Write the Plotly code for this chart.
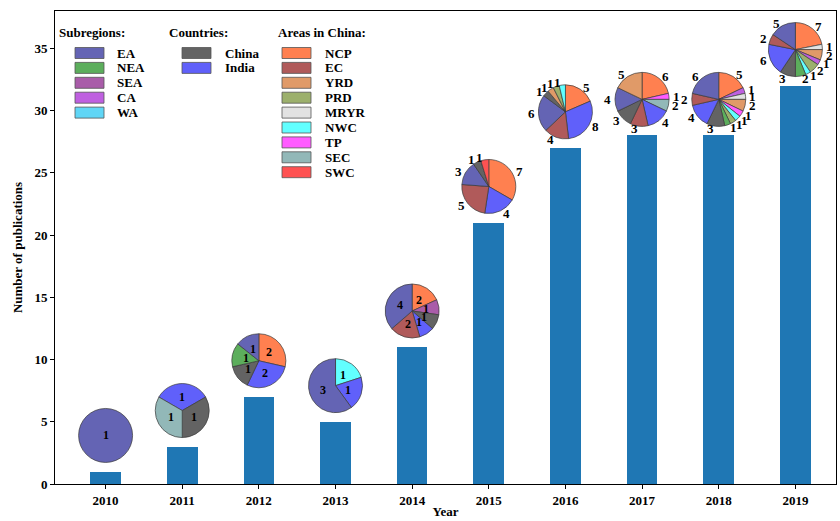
import math
import plotly.graph_objects as go

# ---- data -------------------------------------------------------------
years = [2010, 2011, 2012, 2013, 2014, 2015, 2016, 2017, 2018, 2019]
counts = [1, 3, 7, 5, 11, 21, 27, 28, 28, 32]

subregions = ["EA", "NEA", "SEA", "CA", "WA"]
countries = ["China", "India"]
china_areas = ["NCP", "EC", "YRD", "PRD", "MRYR", "NWC", "TP", "SEC", "SWC"]

# breakdown of each year's publications, listed counter-clockwise
pie_2010 = [("EA", 1)]
pie_2011 = [("SEC", 1), ("China", 1), ("India", 1)]
pie_2012 = [("EA", 1), ("NEA", 1), ("China", 1), ("India", 2), ("NCP", 2)]
pie_2013 = [("EA", 3), ("India", 1), ("NWC", 1)]
pie_2014 = [("EA", 4), ("EC", 2), ("India", 1), ("China", 1), ("SEA", 1), ("NCP", 2)]
pie_2015 = [("SWC", 1), ("China", 1), ("EA", 3), ("EC", 5), ("India", 4), ("NCP", 7)]
pie_2016 = [("NWC", 1), ("PRD", 1), ("YRD", 1), ("China", 1), ("EA", 6), ("EC", 4),
            ("India", 8), ("NCP", 5)]
pie_2017 = [("YRD", 5), ("EA", 4), ("China", 3), ("EC", 3), ("India", 4), ("SEC", 2),
            ("TP", 1), ("NCP", 6)]
pie_2018 = [("EA", 6), ("EC", 2), ("India", 4), ("China", 3), ("NEA", 1), ("PRD", 1),
            ("NWC", 1), ("TP", 1), ("YRD", 2), ("MRYR", 1), ("CA", 1), ("NCP", 5)]
pie_2019 = [("EA", 5), ("EC", 2), ("India", 6), ("China", 3), ("NEA", 2), ("NWC", 1),
            ("PRD", 2), ("CA", 1), ("YRD", 2), ("MRYR", 1), ("NCP", 7)]
pies = [pie_2010, pie_2011, pie_2012, pie_2013, pie_2014,
        pie_2015, pie_2016, pie_2017, pie_2018, pie_2019]

# ---- styling ----------------------------------------------------------
colors = {
    "EA": "#6464b4", "NEA": "#5cae5c", "SEA": "#a95ca9", "CA": "#bf60e0", "WA": "#60d6f6",
    "China": "#636363", "India": "#6060fa",
    "NCP": "#ff8050", "EC": "#b05a5a", "YRD": "#e09a68", "PRD": "#9cb06c",
    "MRYR": "#e2e2e2", "NWC": "#62ffff", "TP": "#ff5cff", "SEC": "#92b8b8", "SWC": "#ff5252",
}
pie_rotation = [0, -60, 0, 0, 0, 0, 0, 0, 0, 0]   # start angle (deg, clockwise from 12 o'clock)
outside_labels = [False] * 5 + [True] * 5
FONT = "Liberation Serif"

W, H = 840, 521
ML, MR, MT, MB = 55, 4, 11, 37
PW, PH = W - ML - MR, H - MT - MB
XR = [-0.66, 9.53]
YR = [0, 38]
PIE_R = 27          # pie radius in px
PIE_LIFT = 2.9      # pie centre above bar top, data units


def data_to_px(x, y):
    px = ML + (x - XR[0]) / (XR[1] - XR[0]) * PW
    py = MT + (1 - (y - YR[0]) / (YR[1] - YR[0])) * PH
    return px, py


def px_to_paper(px, py):
    return (px - ML) / PW, 1 - (py - MT) / PH


fig = go.Figure()

fig.add_trace(go.Bar(
    x=list(range(len(years))), y=counts, width=0.4,
    marker=dict(color="#1f77b4", line=dict(width=0)),
    showlegend=False, hoverinfo="x+y",
))

annotations = []
for i, (n, comp) in enumerate(zip(counts, pies)):
    cx, cy = data_to_px(i, n + PIE_LIFT)
    x0, y0 = px_to_paper(cx - PIE_R, cy + PIE_R)
    x1, y1 = px_to_paper(cx + PIE_R, cy - PIE_R)
    labels = [k for k, _ in comp]
    values = [v for _, v in comp]
    # a counter-clockwise sequence from the start angle is the reversed
    # sequence drawn clockwise from the same angle
    fig.add_trace(go.Pie(
        labels=labels[::-1], values=values[::-1], sort=False, direction="clockwise",
        rotation=pie_rotation[i], textinfo="none", showlegend=False,
        marker=dict(colors=[colors[k] for k in labels[::-1]],
                    line=dict(color="#3a3a3a", width=0.7)),
        domain=dict(x=[x0, x1], y=[y0, y1]), hoverinfo="label+value",
    ))
    # value labels around / inside each pie
    total = sum(values)
    start = 90 - pie_rotation[i]
    cum = 0
    for k, v in comp:
        mid = math.radians(start + (cum + v / 2) / total * 360)
        cum += v
        if outside_labels[i]:
            d = 1.1 * PIE_R
            anchor = "left" if math.cos(mid) > 0 else "right"
            size = 13
        else:
            d = 0.5 * PIE_R if len(comp) > 1 else 0
            anchor = "center"
            size = 12
        lx, ly = px_to_paper(cx + d * math.cos(mid), cy - d * math.sin(mid))
        annotations.append(dict(
            x=lx, y=ly, xref="paper", yref="paper", text=f"<b>{v}</b>",
            showarrow=False, xanchor=anchor, yanchor="middle",
            font=dict(family=FONT, size=size, color="black"), borderpad=0,
        ))

# ---- custom legend blocks --------------------------------------------
shapes = []
legend_blocks = [
    ("Subregions:", subregions, 57, 75, 115),
    ("Countries:", countries, 167, 182, 223),
    ("Areas in China:", china_areas, 276, 282, 323),
]
for title, items, tx, sx, lx in legend_blocks:
    px, py = px_to_paper(tx, 32)
    annotations.append(dict(
        x=px, y=py, xref="paper", yref="paper", text=f"<b>{title}</b>",
        showarrow=False, xanchor="left", yanchor="middle",
        font=dict(family=FONT, size=13, color="black"),
    ))
    for j, name in enumerate(items):
        rowy = 53 + 14.9 * j
        a0, b0 = px_to_paper(sx, rowy + 5.5)
        a1, b1 = px_to_paper(sx + 29, rowy - 5.5)
        shapes.append(dict(
            type="rect", xref="paper", yref="paper", x0=a0, y0=b0, x1=a1, y1=b1,
            fillcolor=colors[name], line=dict(color="#555555", width=0.8),
        ))
        tx2, ty2 = px_to_paper(lx, rowy)
        annotations.append(dict(
            x=tx2, y=ty2, xref="paper", yref="paper", text=f"<b>{name}</b>",
            showarrow=False, xanchor="left", yanchor="middle",
            font=dict(family=FONT, size=13, color="black"),
        ))

fig.update_layout(
    width=W, height=H,
    margin=dict(l=ML, r=MR, t=MT, b=MB),
    paper_bgcolor="white", plot_bgcolor="white",
    font=dict(family=FONT, size=13, color="black"),
    annotations=annotations, shapes=shapes,
    bargap=0,
    xaxis=dict(
        range=XR, tickmode="array", tickvals=list(range(len(years))),
        ticktext=[f"<b>{y}</b>" for y in years],
        showline=True, linecolor="black", linewidth=1, mirror=True,
        ticks="outside", ticklen=4, tickcolor="black", showgrid=False, zeroline=False,
        title=dict(text="<b>Year</b>", font=dict(family=FONT, size=13), standoff=0),
        tickfont=dict(family=FONT, size=13),
    ),
    yaxis=dict(
        range=YR, tickmode="array", tickvals=[0, 5, 10, 15, 20, 25, 30, 35],
        ticktext=[f"<b>{v}</b>" for v in [0, 5, 10, 15, 20, 25, 30, 35]],
        showline=True, linecolor="black", linewidth=1, mirror=True,
        ticks="outside", ticklen=4, tickcolor="black", showgrid=False, zeroline=False,
        title=dict(text="<b>Number of publications</b>", font=dict(family=FONT, size=13),
                   standoff=8),
        tickfont=dict(family=FONT, size=13),
    ),
)

fig.write_html("out.html")
